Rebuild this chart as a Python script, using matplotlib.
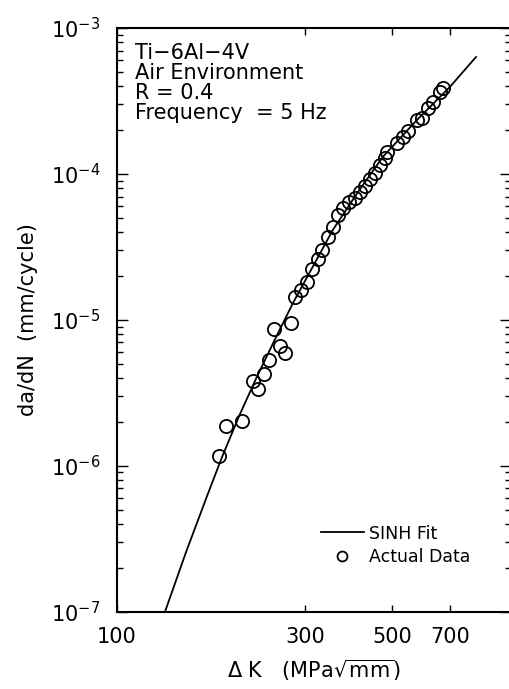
import matplotlib

matplotlib.use("Agg")
import matplotlib.pyplot as plt
from matplotlib.ticker import FixedLocator, FixedFormatter, LogLocator, NullFormatter

# measured crack growth data (Delta K in MPa*sqrt(mm), da/dN in mm/cycle)
dk_data = [181.0, 188.6, 207.7, 221.4, 228.0, 236.1, 243.5, 250.6, 259.2, 266.9,
           276.0, 283.8, 293.1, 303.0, 312.6, 322.8, 331.4, 343.9, 354.0, 364.9,
           375.3, 388.0, 401.9, 413.8, 426.0, 438.6, 451.6, 465.1, 478.9, 484.5,
           513.7, 532.0, 548.7, 577.3, 594.5, 616.8, 633.9, 658.5, 673.3]
dadn_data = [1.16e-6, 1.87e-6, 2.04e-6, 3.79e-6, 3.35e-6, 4.25e-6, 5.32e-6, 8.61e-6, 6.58e-6, 5.97e-6,
             9.58e-6, 1.44e-5, 1.59e-5, 1.82e-5, 2.24e-5, 2.60e-5, 2.99e-5, 3.70e-5, 4.34e-5, 5.24e-5,
             5.85e-5, 6.43e-5, 6.85e-5, 7.47e-5, 8.27e-5, 9.24e-5, 1.01e-4, 1.15e-4, 1.29e-4, 1.42e-4,
             1.62e-4, 1.79e-4, 1.96e-4, 2.34e-4, 2.41e-4, 2.83e-4, 3.13e-4, 3.62e-4, 3.86e-4]

# SINH fit curve
dk_fit = [132.4, 150.0, 170.0, 184.8, 205.0, 226.5, 252.0, 279.9, 315.0, 353.0,
          410.0, 473.0, 577.0, 700.0, 815.0]
dadn_fit = [1.0e-7, 2.6e-7, 6.4e-7, 1.15e-6, 2.25e-6, 4.07e-6, 7.4e-6, 1.31e-5, 2.35e-5, 4.13e-5,
            7.6e-5, 1.31e-4, 2.34e-4, 3.95e-4, 6.33e-4]

xticks = [100, 300, 500, 700]
xticklabels = ["100", "300", "500", "700"]
notes = "Ti\u22126Al\u22124V\nAir Environment\nR = 0.4\nFrequency  = 5 Hz"

fig = plt.figure(figsize=(5.09, 6.89), dpi=100)
ax = fig.add_axes([117 / 509, 1 - 611.7 / 689, 394 / 509, 583.7 / 689])

ax.plot(dk_fit, dadn_fit, color="black", lw=1.3, label="SINH Fit")
ax.plot(dk_data, dadn_data, "o", mfc="none", mec="black", mew=1.3, ms=9.5,
        label="Actual Data")

ax.set_xscale("log")
ax.set_yscale("log")
ax.set_xlim(100, 1000)
ax.set_ylim(1e-7, 1e-3)

ax.xaxis.set_major_locator(FixedLocator(xticks))
ax.xaxis.set_major_formatter(FixedFormatter(xticklabels))
ax.xaxis.set_minor_locator(FixedLocator([]))
ax.yaxis.set_major_locator(LogLocator(base=10, numticks=10))
ax.yaxis.set_minor_locator(LogLocator(base=10, subs=range(2, 10), numticks=10))
ax.yaxis.set_minor_formatter(NullFormatter())

ax.tick_params(which="both", direction="in", top=True, right=True, width=1.0,
               labelsize=15, colors="black")
ax.tick_params(axis="x", which="major", length=5, pad=11)
ax.tick_params(axis="y", which="major", length=8, pad=12)
ax.tick_params(axis="y", which="minor", length=4)
for sp in ax.spines.values():
    sp.set_linewidth(1.5)

ax.set_xlabel(r"$\Delta$ K   (MPa$\sqrt{\rm mm}$)", fontsize=15, labelpad=8)
ax.set_ylabel("da/dN  (mm/cycle)", fontsize=15, labelpad=9)

ax.text(0.045, 0.974, notes, transform=ax.transAxes, fontsize=15, va="top",
        ha="left", linespacing=0.99)

ax.legend(loc="lower right", bbox_to_anchor=(0.937, 0.052), frameon=False,
          fontsize=12.5, handlelength=2.5, handletextpad=0.3, markerscale=0.75,
          labelspacing=0.3)

fig.savefig("out.png", dpi=100)
